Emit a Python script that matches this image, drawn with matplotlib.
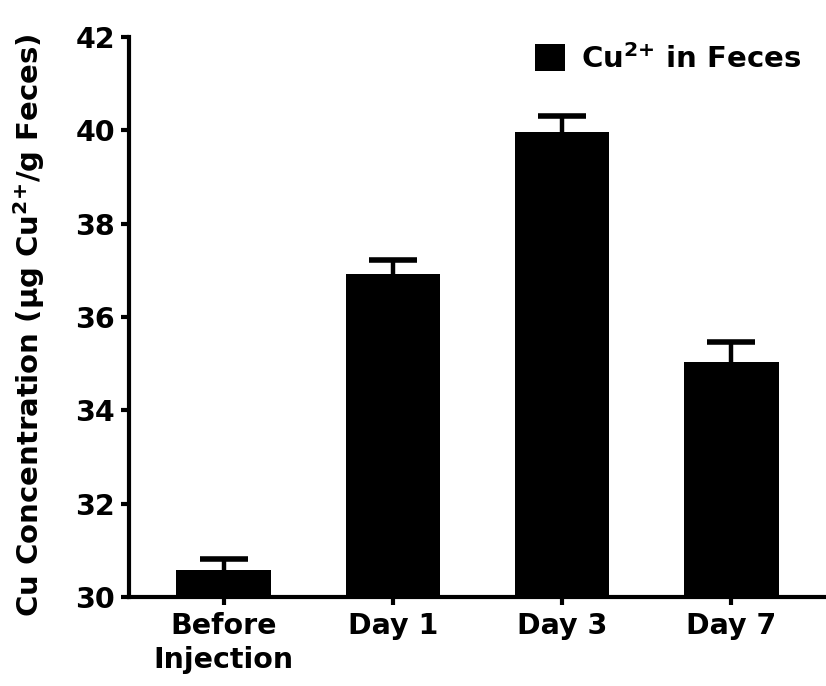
import matplotlib
matplotlib.use('Agg')
import matplotlib.pyplot as plt

# Cu content in feces at each time point
groups = ['Before\nInjection', 'Day 1', 'Day 3', 'Day 7']
means = [30.58, 36.93, 39.97, 35.03]
errors = [0.23, 0.30, 0.34, 0.43]

plt.rcParams['font.family'] = ['DejaVu Sans']
plt.rcParams['font.weight'] = 'bold'
plt.rcParams['mathtext.default'] = 'bf'

fig = plt.figure(figsize=(8.26, 6.86), dpi=100)
W, H = 826, 686
ax = fig.add_axes([129 / W, (H - 597) / H, (W - 129) / W, (597 - 37) / H])

x = list(range(len(groups)))
ax.bar(x, means, width=0.56, color='black', label='Cu$^{2{+}}$ in Feces', zorder=2)
eb = ax.errorbar(x, means, yerr=[[0] * len(errors), errors], fmt='none', ecolor='black',
                 elinewidth=3.2, capsize=17, capthick=4, zorder=1)
# only the upper caps
eb[1][0].set_visible(False)

ax.set_ylim(30, 42)
ax.set_xlim(-0.56, 3.56)
ax.set_yticks(range(30, 43, 2))
ax.set_xticks(x)
ax.set_xticklabels(groups, fontsize=20.5, fontweight='bold', linespacing=1.28)
for lbl in ax.get_yticklabels():
    lbl.set_fontsize(20.5)
    lbl.set_fontweight('bold')

ax.set_ylabel('Cu Concentration (µg Cu$^{2{+}}$/g Feces)', fontsize=21, fontweight='bold')
ax.yaxis.set_label_coords(-0.118, 0.485)

ax.spines['top'].set_visible(False)
ax.spines['right'].set_visible(False)
ax.spines['left'].set_linewidth(3)
ax.spines['bottom'].set_linewidth(3)
ax.tick_params(axis='both', direction='out', length=6, width=3, pad=4)
ax.tick_params(axis='x', pad=5)

ax.legend(loc='upper left', bbox_to_anchor=(523 / W, 1 - 32 / H), bbox_transform=fig.transFigure,
          frameon=False, fontsize=21, handlelength=1.05, handleheight=1.05, handletextpad=0.55,
          borderaxespad=0)

plt.savefig('out.png', dpi=100, facecolor='white')
plt.close()
